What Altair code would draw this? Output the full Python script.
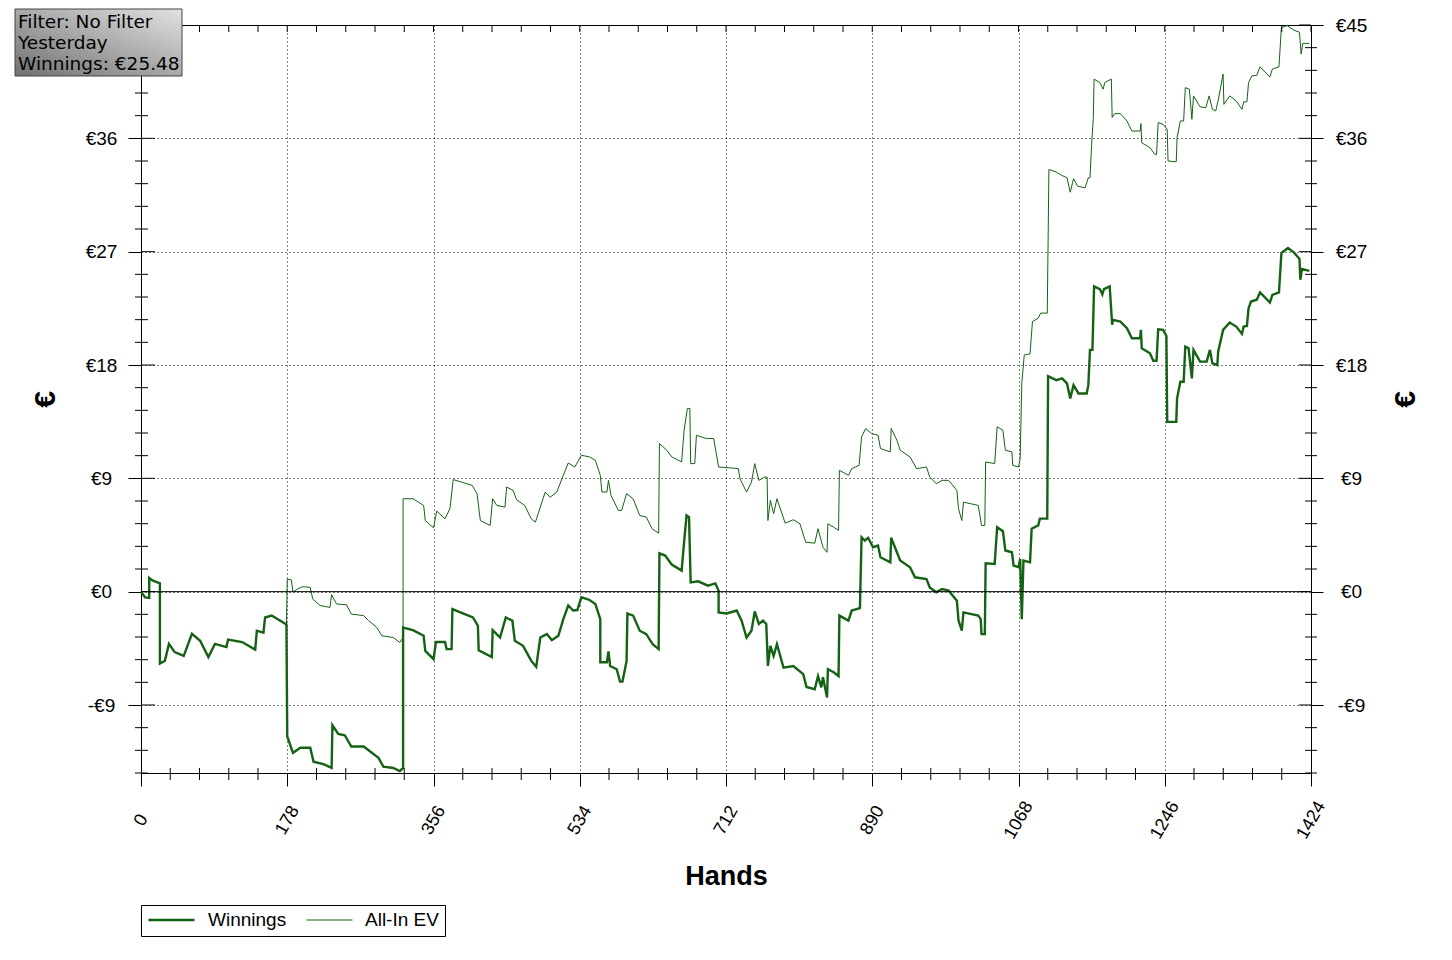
import altair as alt
import pandas as pd

# hands / euro values
w_hands = [0, 5, 10, 10, 14, 23, 23, 29, 34, 41, 52, 56, 62, 72, 82, 90, 104, 106, 123, 139,
           141, 149, 151, 159, 177, 178, 185, 194, 206, 210, 222, 232, 233, 240, 248, 256, 271, 289, 295, 307,
           315, 319, 319, 331, 344, 346, 356, 359, 370, 372, 378, 379, 394, 404, 410, 411, 427, 428, 437, 444,
           452, 455, 465, 475, 481, 486, 494, 500, 508, 514, 520, 526, 531, 536, 546, 553, 559, 559, 567, 569,
           571, 579, 583, 586, 591, 592, 599, 607, 615, 623, 630, 631, 638, 646, 658, 661, 664, 667, 669, 678,
           690, 699, 703, 703, 713, 725, 731, 737, 743, 747, 752, 757, 761, 763, 766, 770, 774, 782, 794, 806,
           810, 820, 824, 828, 830, 835, 836, 843, 849, 850, 861, 865, 875, 877, 881, 885, 891, 897, 900, 912,
           913, 920, 924, 936, 942, 956, 960, 968, 975, 983, 993, 995, 999, 1001, 1019, 1022, 1023, 1027, 1028, 1039,
           1042, 1049, 1052, 1060, 1062, 1068, 1070, 1072, 1074, 1082, 1084, 1092, 1094, 1103, 1104, 1114, 1121, 1127, 1131, 1135,
           1141, 1151, 1153, 1155, 1158, 1160, 1167, 1170, 1172, 1179, 1182, 1183, 1192, 1200, 1206, 1216, 1217, 1218, 1228, 1232,
           1236, 1238, 1244, 1248, 1249, 1260, 1261, 1265, 1269, 1271, 1275, 1279, 1281, 1289, 1297, 1301, 1304, 1310, 1311, 1317,
           1325, 1333, 1340, 1342, 1346, 1348, 1351, 1358, 1362, 1374, 1377, 1385, 1388, 1396, 1403, 1410, 1411, 1413, 1422]
w_values = [0, -0.45, -0.5, 1.1, 0.9, 0.66, -5.7, -5.5, -4.15, -4.8, -5.1, -4.4, -3.35, -3.9, -5.2, -4.15, -4.4, -3.8, -4.0, -4.6,
            -3.1, -3.25, -2.05, -1.9, -2.6, -11.5, -12.8, -12.4, -12.4, -13.5, -13.7, -14.0, -10.6, -11.3, -11.4, -12.3, -12.3, -13.2, -13.9, -14.0,
            -14.25, -14.0, -2.85, -3.05, -3.5, -4.7, -5.36, -4.0, -4.0, -4.56, -4.56, -1.38, -1.78, -2.05, -2.7, -4.65, -5.2, -3.05, -3.64, -2.05,
            -2.3, -3.9, -4.3, -5.5, -5.97, -3.64, -3.37, -3.85, -3.5, -2.18, -1.1, -1.5, -1.46, -0.45, -0.66, -0.98, -2.18, -5.6, -5.6, -4.75,
            -5.9, -6.16, -7.14, -7.14, -5.5, -1.73, -1.9, -3.1, -3.37, -4.2, -4.56, 3.05, 2.87, 2.15, 1.67, 3.93, 6.05, 5.92, 0.74, 0.82,
            0.48, 0.66, 0.08, -1.65, -1.73, -1.5, -2.3, -3.64, -3.1, -1.57, -2.57, -2.3, -2.57, -5.9, -4.3, -5.1, -4.17, -6.03, -5.9, -6.55,
            -7.57, -7.75, -6.7, -7.6, -6.8, -8.4, -6.16, -6.4, -6.7, -1.9, -2.3, -1.5, -1.3, 4.32, 4.06, 4.28, 3.53, 3.66, 2.73, 2.33,
            4.28, 3.13, 2.47, 1.94, 1.14, 1.0, 0.34, -0.05, 0.21, 0.08, -0.72, -2.3, -3.1, -1.65, -1.9, -2.18, -3.37, -3.37, 2.25, 2.2,
            5.12, 4.8, 3.27, 3.13, 2.07, 1.94, 2.6, -2.18, 2.47, 2.33, 5.0, 5.26, 5.8, 5.8, 17.12, 16.8, 16.94, 16.54, 15.35, 16.4,
            15.74, 15.74, 16.4, 19.2, 19.2, 24.24, 24.03, 23.6, 24.03, 24.24, 21.2, 21.58, 21.45, 20.92, 20.13, 20.13, 20.79, 19.33, 18.93, 18.34,
            18.34, 20.84, 20.79, 20.3, 13.48, 13.48, 15.35, 16.67, 16.67, 19.46, 19.33, 16.94, 19.2, 18.27, 18.27, 19.2, 18.13, 18.0, 19.06, 20.79,
            21.37, 21.05, 20.47, 21.05, 21.1, 22.5, 23.04, 23.18, 23.76, 22.96, 23.57, 23.76, 26.9, 27.29, 26.95, 26.42, 24.77, 25.62, 25.48]

ev_hands = [0, 5, 10, 10, 14, 23, 23, 29, 34, 41, 52, 56, 62, 72, 82, 90, 104, 106, 123, 139,
            141, 149, 151, 159, 177, 178, 183, 185, 190, 197, 206, 209, 218, 230, 232, 238, 250, 256, 271, 277,
            287, 293, 307, 315, 319, 319, 331, 344, 346, 356, 360, 370, 376, 380, 390, 403, 409, 413, 425, 428,
            433, 443, 445, 453, 457, 467, 475, 480, 484, 492, 498, 506, 514, 520, 528, 536, 546, 553, 559, 561,
            567, 569, 572, 581, 585, 591, 599, 607, 615, 622, 630, 631, 640, 646, 658, 661, 665, 668, 669, 674,
            676, 688, 697, 703, 713, 727, 729, 737, 743, 747, 752, 759, 762, 763, 766, 770, 774, 784, 794, 802,
            809, 820, 824, 830, 835, 836, 843, 849, 850, 861, 865, 874, 877, 882, 889, 897, 900, 912, 913, 920,
            924, 936, 944, 956, 960, 968, 975, 983, 993, 995, 999, 1001, 1019, 1023, 1027, 1028, 1039, 1042, 1049, 1052,
            1060, 1061, 1068, 1070, 1072, 1075, 1082, 1085, 1092, 1095, 1103, 1104, 1105, 1114, 1121, 1127, 1131, 1135, 1140, 1149,
            1153, 1155, 1157, 1159, 1160, 1167, 1171, 1173, 1181, 1182, 1185, 1192, 1200, 1206, 1216, 1217, 1218, 1228, 1234, 1236,
            1238, 1244, 1249, 1250, 1260, 1261, 1265, 1269, 1271, 1276, 1279, 1281, 1289, 1296, 1300, 1304, 1308, 1311, 1317, 1318,
            1325, 1333, 1340, 1342, 1346, 1348, 1352, 1358, 1362, 1374, 1377, 1385, 1388, 1395, 1403, 1410, 1412, 1414, 1422]
ev_values = [0, -0.45, -0.5, 1.1, 0.9, 0.66, -5.7, -5.5, -4.15, -4.8, -5.1, -4.4, -3.35, -3.9, -5.2, -4.15, -4.4, -3.8, -4.0, -4.6,
             -3.1, -3.25, -2.05, -1.9, -2.6, 1.0, 0.93, -0.05, 0.2, 0.4, 0.34, -0.58, -1.1, -1.25, -0.24, -0.98, -1.04, -1.78, -1.9, -2.3,
             -2.84, -3.5, -3.64, -4.04, -3.64, 7.38, 7.38, 6.85, 5.65, 5.07, 6.4, 5.79, 6.59, 8.9, 8.7, 8.44, 7.78, 5.65, 5.26, 7.38,
             6.85, 6.71, 8.31, 8.04, 7.3, 6.85, 5.79, 5.52, 6.32, 7.91, 7.5, 7.91, 9.24, 10.22, 9.9, 10.83, 10.7, 10.43, 9.24, 7.91,
             7.91, 8.84, 7.65, 6.45, 6.45, 7.78, 7.38, 6.05, 5.92, 5.0, 4.65, 11.76, 11.23, 10.7, 10.3, 12.82, 14.55, 14.55, 10.17, 10.17,
             12.42, 12.16, 12.16, 9.9, 9.85, 9.77, 8.97, 7.91, 8.7, 10.17, 8.84, 9.1, 9.1, 5.65, 7.25, 6.19, 7.38, 5.44, 5.71, 5.39,
             3.93, 3.85, 5.0, 3.53, 3.13, 5.39, 5.12, 4.86, 9.64, 9.24, 9.77, 10.03, 12.29, 12.96, 12.56, 12.42, 11.37, 11.1, 12.96, 12.03,
             11.23, 10.7, 9.77, 9.9, 9.1, 8.58, 8.84, 8.84, 8.04, 6.59, 5.65, 7.11, 6.85, 5.26, 5.26, 10.3, 10.17, 13.09, 12.82, 11.23,
             11.1, 10.03, 9.9, 10.57, 16.54, 18.8, 18.88, 21.45, 21.72, 22.12, 22.12, 27.69, 33.53, 33.32, 33.05, 32.87, 31.72, 32.8, 32.2, 32.07,
             32.87, 32.87, 35.52, 37.51, 40.7, 40.43, 39.9, 40.43, 40.7, 37.65, 37.96, 37.96, 37.38, 36.58, 36.58, 37.17, 35.65, 35.26, 34.72, 34.72,
             37.25, 37.11, 36.72, 34.2, 34.14, 36.05, 37.38, 37.38, 40.03, 39.9, 37.51, 39.37, 38.5, 38.44, 39.37, 38.3, 38.17, 39.0, 41.1, 38.7,
             39.37, 38.97, 38.3, 38.9, 38.9, 40.43, 40.96, 41.0, 41.68, 40.88, 41.5, 41.68, 44.8, 44.95, 44.6, 44.42, 42.69, 43.54, 43.54]

series_names = ["Winnings", "All-In EV"]
info_lines = ["Filter: No Filter", "Yesterday", "Winnings: \u20ac25.48"]

x_major = [0, 178, 356, 534, 712, 890, 1068, 1246, 1424]
x_minor = [round(i * 35.6, 1) for i in range(41) if i % 5]
y_major = [-9, 0, 9, 18, 27, 36, 45]
y_left_labels = [-9, 0, 9, 18, 27, 36]  # the €45 one sits under the filter box
y_minor = [round(-14.4 + i * 1.8, 1) for i in range(34) if i % 5 != 3]
zero_line = [0]

GREEN = "#156215"
W, H = 1170, 748

rows = []
for name, hs, vs in [("Winnings", w_hands, w_values), ("All-In EV", ev_hands, ev_values)]:
    for i, (h, v) in enumerate(zip(hs, vs)):
        rows.append({"series": name, "hand": h, "value": v, "step": i})
df = pd.DataFrame(rows)

x_scale = alt.Scale(domain=[0, 1424], nice=False, zero=False)
y_scale = alt.Scale(domain=[-14.4, 45], nice=False, zero=False)
euro = "datum.value < 0 ? '-\u20ac' + abs(datum.value) : '\u20ac' + datum.value"

x_axis = alt.Axis(
    values=x_major, format="d", labelAngle=-60, labelAlign="center", labelBaseline="middle",
    labelPadding=34, labelFontSize=18, labelColor="black", labelFlush=False, labelOverlap=False,
    tickSize=13, tickColor="black", domainColor="black",
    grid=True, gridColor="black", gridDash=[1, 3], gridOpacity=1,
    title="Hands", titleFontSize=27, titleFontWeight="bold", titleColor="black",
    titleY=103, titleBaseline="middle", zindex=0,
)
left_axis = alt.Axis(
    values=y_left_labels, labelExpr=euro, labelAlign="center", labelBaseline="middle",
    labelPadding=27, labelFontSize=19, labelColor="black", labelOverlap=False, labelFlush=False,
    tickSize=13, tickColor="black", domainColor="black",
    grid=True, gridColor="black", gridDash=[1, 3], gridOpacity=1,
    title="\u20ac", titleFontSize=30, titleFontWeight="bold", titleColor="black",
    titleAngle=270, titleX=-96, titleY=374, titleAlign="center", titleBaseline="middle", zindex=0,
)
right_axis = alt.Axis(
    orient="right", values=y_major, labelExpr=euro, labelAlign="center", labelBaseline="middle",
    labelPadding=28, labelFontSize=19, labelColor="black", labelOverlap=False, labelFlush=False,
    tickSize=12, tickColor="black", domainColor="black", grid=False,
    title="\u20ac", titleFontSize=30, titleFontWeight="bold", titleColor="black",
    titleAngle=270, titleX=94, titleY=374, titleAlign="center", titleBaseline="middle", zindex=0,
)
legend = alt.Legend(
    title=None, orient="none", legendX=0, legendY=880, direction="horizontal",
    symbolType="stroke", symbolSize=2116, clipHeight=18,
    labelFontSize=19, labelColor="black", labelOffset=12, columnPadding=19,
    labelExpr="datum.label == 'All-In EV' ? datum.label + '\u2002\u2002' : datum.label",
    strokeColor="black", fillColor="white", padding=6,
)

lines = alt.Chart(df).mark_line(strokeJoin="miter").encode(
    x=alt.X("hand:Q", scale=x_scale, axis=x_axis),
    y=alt.Y("value:Q", scale=y_scale, axis=left_axis),
    color=alt.Color("series:N", scale=alt.Scale(domain=series_names, range=[GREEN, GREEN]), legend=legend),
    strokeWidth=alt.StrokeWidth("series:N", scale=alt.Scale(domain=series_names, range=[2.4, 1.0]), legend=legend),
    order=alt.Order("step:Q"),
)

zero = alt.Chart(pd.DataFrame({"v": zero_line})).mark_rule(color="black", strokeWidth=1).encode(
    y=alt.Y("v:Q", scale=y_scale, axis=right_axis)
)


def y_ticks(vals, x0, x1):
    return alt.Chart(pd.DataFrame({"v": vals})).mark_rule(color="black", strokeWidth=1).encode(
        y=alt.Y("v:Q", scale=y_scale, axis=None), x=alt.value(x0), x2=alt.value(x1)
    )


def x_ticks(vals, y0, y1):
    return alt.Chart(pd.DataFrame({"v": vals})).mark_rule(color="black", strokeWidth=1).encode(
        x=alt.X("v:Q", scale=x_scale, axis=None), y=alt.value(y0), y2=alt.value(y1)
    )


ticks = [
    y_ticks(y_minor, -6, 7),
    y_ticks(y_major, 0, 14),
    y_ticks(y_minor, W - 6, W + 6),
    y_ticks(y_major, W - 12, W),
    x_ticks(x_minor, H - 5, H + 7),
    x_ticks(x_major + x_minor, 0, 7),
]

# filter box in the top-left corner
box = alt.Chart(pd.DataFrame({"k": [0]})).mark_rect(
    fill={"gradient": "linear", "x1": 0, "y1": 1, "x2": 1, "y2": 0,
          "stops": [{"offset": 0, "color": "#707070"}, {"offset": 1, "color": "#e2e2e2"}]},
    stroke="#444444", strokeWidth=1,
).encode(x=alt.value(-126), x2=alt.value(41), y=alt.value(-16), y2=alt.value(51))

box_text = alt.Chart(pd.DataFrame({"k": [0]})).mark_text(
    font="DejaVu Sans", fontSize=18.5, color="black", align="left", baseline="alphabetic", lineHeight=21,
).encode(x=alt.value(-123), y=alt.value(3), text=alt.value(info_lines))

chart = (
    alt.layer(lines, zero, *ticks, box, box_text)
    .resolve_axis(x="independent", y="independent")
    .properties(
        width=W, height=H,
        padding={"left": 133, "top": 17, "right": 133, "bottom": 179},
        autosize=alt.AutoSizeParams(type="none"),
        background="white",
    )
    .configure(font="Liberation Sans")
    .configure_view(stroke="black", strokeWidth=1)
)

chart.save("out.html", embed_options={"renderer": "svg", "actions": False})
